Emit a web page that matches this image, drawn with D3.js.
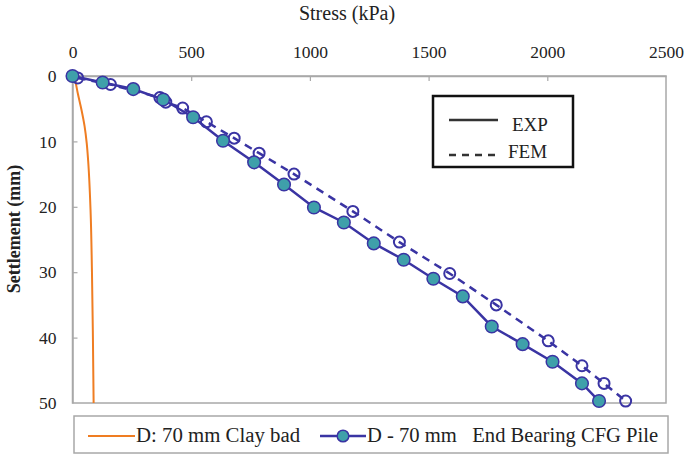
<!DOCTYPE html>
<html>
<head>
<meta charset="utf-8">
<script src="https://cdn.jsdelivr.net/npm/d3@7"></script>
<style>
  body { margin: 0; background: #fff; }
  svg text { font-family: "Liberation Serif", "DejaVu Serif", serif; }
</style>
</head>
<body>
<div id="chart"></div>
<script>
// stress (kPa) / settlement (mm)
var expStress = [0, 127, 256, 382, 508, 634, 765, 891, 1017, 1143, 1269, 1395, 1520, 1644, 1766, 1896, 2022, 2146, 2218]
var expSettle = [0, 1.0, 2.0, 3.6, 6.3, 9.9, 13.2, 16.6, 20.1, 22.4, 25.6, 28.1, 31.0, 33.7, 38.3, 41.0, 43.7, 47.0, 49.7]

var femStress = [22, 160, 368, 393, 464, 564, 681, 786, 933, 1181, 1377, 1589, 1785, 2004, 2146, 2239, 2330]
var femSettle = [0.3, 1.3, 3.3, 4.0, 4.9, 7.0, 9.5, 11.8, 15.0, 20.7, 25.4, 30.2, 35.0, 40.5, 44.3, 47.0, 49.7]

var claySettle = [0, 1, 2.6, 5.2, 7.7, 10.3, 13, 20.5, 30, 40, 50]
var clayStress = [5, 13, 22, 38, 51, 60, 66, 76, 82, 86, 89]

var xTicks = [0, 500, 1000, 1500, 2000, 2500]
var yTicks = [0, 10, 20, 30, 40, 50]

var W = 687, H = 459
var pLeft = 72.5, pRight = 666, pTop = 76, pBottom = 403

var blue = "#3a34a3", teal = "#3fa0aa", orange = "#ef7d22", axisGray = "#a8a8a8"

var svg = d3.select("#chart").append("svg")
  .attr("width", W)
  .attr("height", H)

var x = d3.scaleLinear().domain([0, 2500]).range([pLeft, pRight])
var y = d3.scaleLinear().domain([0, 50]).range([pTop, pBottom])

// plot frame
svg.append("rect")
  .attr("x", pLeft).attr("y", pTop)
  .attr("width", pRight - pLeft).attr("height", pBottom - pTop)
  .attr("fill", "none").attr("stroke", axisGray).attr("stroke-width", 1.5)

// top axis, ticks pointing inward
var gx = svg.append("g")
  .attr("transform", "translate(0," + pTop + ")")
  .call(d3.axisTop(x).tickValues(xTicks).tickFormat(d3.format("d"))
    .tickSizeInner(-5).tickSizeOuter(0).tickPadding(18))
gx.select(".domain").attr("stroke", axisGray).attr("stroke-width", 1.5)
gx.selectAll(".tick line").attr("stroke", axisGray).attr("stroke-width", 1.2)
gx.selectAll(".tick text").attr("font-size", 17.5).attr("fill", "#222")
gx.selectAll(".tick").filter(function(d) { return d == 0 || d == 2500 }).select("line").remove()

var gy = svg.append("g")
  .attr("transform", "translate(" + pLeft + ",0)")
  .call(d3.axisLeft(y).tickValues(yTicks).tickFormat(d3.format("d"))
    .tickSizeInner(-5).tickSizeOuter(0).tickPadding(16))
gy.select(".domain").attr("stroke", axisGray).attr("stroke-width", 1.5)
gy.selectAll(".tick line").attr("stroke", axisGray).attr("stroke-width", 1.2)
gy.selectAll(".tick text").attr("font-size", 17.5).attr("fill", "#222")
gy.selectAll(".tick").filter(function(d) { return d == 0 || d == 50 }).select("line").remove()

// axis titles
svg.append("text")
  .attr("x", 347).attr("y", 20)
  .attr("text-anchor", "middle")
  .attr("font-size", 20).attr("fill", "#222")
  .text("Stress (kPa)")

svg.append("text")
  .attr("transform", "translate(20,229) rotate(-90)")
  .attr("text-anchor", "middle")
  .attr("font-size", 18).attr("font-weight", "bold").attr("fill", "#222")
  .text("Settlement (mm)")

// series
var expData = expStress.map(function(s, i) { return {x: s, y: expSettle[i]} })
var femData = femStress.map(function(s, i) { return {x: s, y: femSettle[i]} })
var clayData = clayStress.map(function(s, i) { return {x: s, y: claySettle[i]} })

var line = d3.line()
  .x(function(d) { return x(d.x) })
  .y(function(d) { return y(d.y) })

svg.append("path")
  .datum(clayData)
  .attr("d", line.curve(d3.curveMonotoneY))
  .attr("fill", "none").attr("stroke", orange).attr("stroke-width", 2)

line.curve(d3.curveLinear)

svg.append("path")
  .datum(femData)
  .attr("d", line)
  .attr("fill", "none").attr("stroke", blue).attr("stroke-width", 2.5)
  .attr("stroke-dasharray", "8,6")

svg.append("path")
  .datum(expData)
  .attr("d", line)
  .attr("fill", "none").attr("stroke", blue).attr("stroke-width", 2.5)

svg.selectAll(".fem")
  .data(femData)
  .enter().append("circle")
  .attr("class", "fem")
  .attr("cx", function(d) { return x(d.x) })
  .attr("cy", function(d) { return y(d.y) })
  .attr("r", 5.5)
  .attr("fill", "none").attr("stroke", blue).attr("stroke-width", 2)

svg.selectAll(".exp")
  .data(expData)
  .enter().append("circle")
  .attr("class", "exp")
  .attr("cx", function(d) { return x(d.x) })
  .attr("cy", function(d) { return y(d.y) })
  .attr("r", 6.3)
  .attr("fill", teal).attr("stroke", blue).attr("stroke-width", 1.5)

// inner legend (EXP / FEM)
svg.append("rect")
  .attr("x", 433).attr("y", 96).attr("width", 140).attr("height", 71)
  .attr("fill", "#fff").attr("stroke", "#111").attr("stroke-width", 2.5)
svg.append("line")
  .attr("x1", 449).attr("x2", 498).attr("y1", 120).attr("y2", 120)
  .attr("stroke", "#333").attr("stroke-width", 2.5)
svg.append("line")
  .attr("x1", 449).attr("x2", 500).attr("y1", 155).attr("y2", 155)
  .attr("stroke", "#333").attr("stroke-width", 2.5).attr("stroke-dasharray", "7,6")
svg.append("text")
  .attr("x", 512).attr("y", 131).attr("font-size", 19).attr("fill", "#222").text("EXP")
svg.append("text")
  .attr("x", 508).attr("y", 158).attr("font-size", 19).attr("fill", "#222").text("FEM")

// bottom legend
svg.append("rect")
  .attr("x", 74).attr("y", 416).attr("width", 594).attr("height", 37)
  .attr("fill", "#fff").attr("stroke", axisGray).attr("stroke-width", 1.5)
svg.append("line")
  .attr("x1", 88).attr("x2", 135).attr("y1", 436).attr("y2", 436)
  .attr("stroke", orange).attr("stroke-width", 2)
svg.append("text")
  .attr("x", 136).attr("y", 442).attr("font-size", 20.8).attr("fill", "#222")
  .text("D: 70 mm Clay bad")
svg.append("line")
  .attr("x1", 320).attr("x2", 366).attr("y1", 436).attr("y2", 436)
  .attr("stroke", blue).attr("stroke-width", 2.5)
svg.append("circle")
  .attr("cx", 343).attr("cy", 436).attr("r", 5.8)
  .attr("fill", teal).attr("stroke", blue).attr("stroke-width", 1.5)
svg.append("text")
  .attr("x", 367).attr("y", 442).attr("font-size", 20.6).attr("fill", "#222")
  .attr("xml:space", "preserve")
  .text("D - 70 mm   End Bearing CFG Pile")
</script>
</body>
</html>
